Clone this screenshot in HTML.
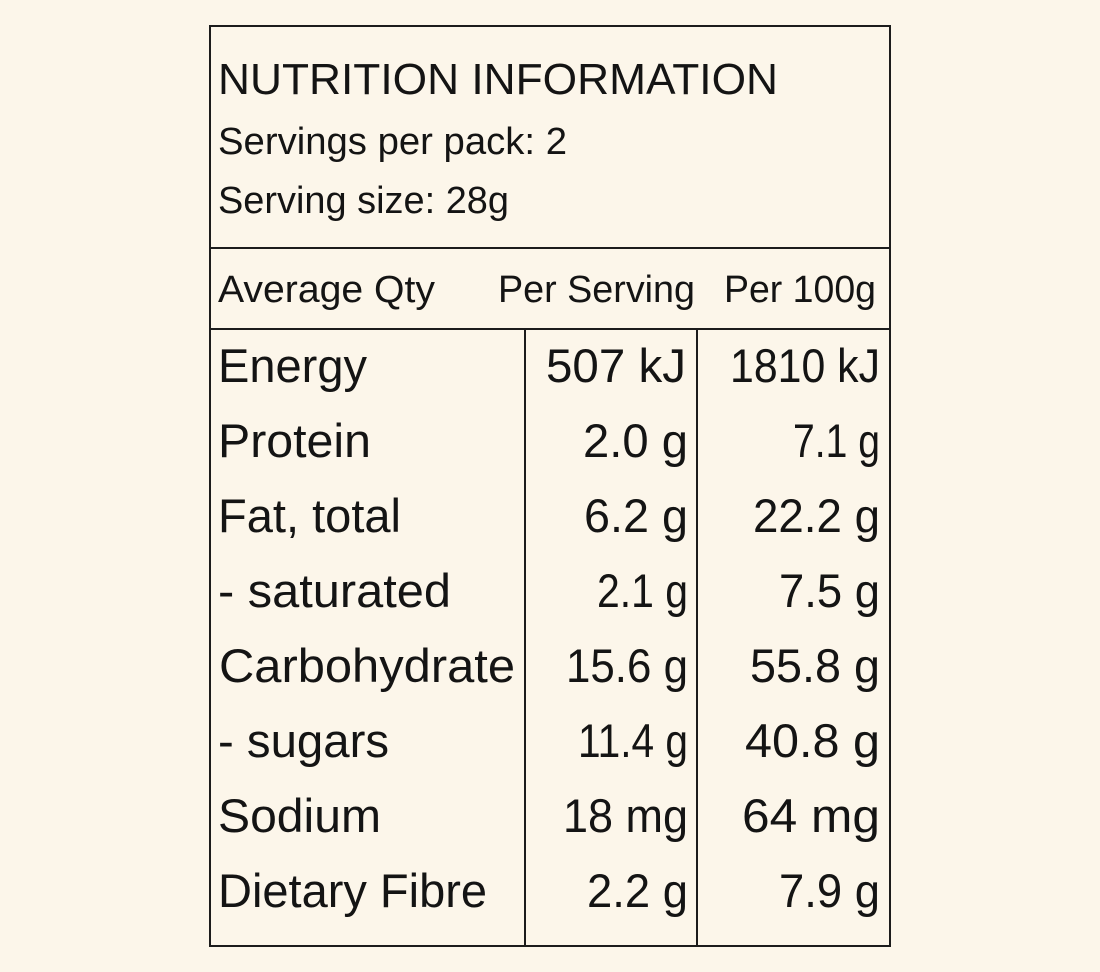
<!DOCTYPE html>
<html>
<head>
<meta charset="utf-8">
<style>
  html,body{margin:0;padding:0;background:#fcf6ea;}
  body{width:1100px;height:972px;overflow:hidden;}
  svg{display:block;}
  text{font-family:"Liberation Sans",Arial,sans-serif;fill:#141414;}
</style>
</head>
<body>
<svg width="1100" height="972" viewBox="0 0 1100 972" xmlns="http://www.w3.org/2000/svg">
  <rect x="0" y="0" width="1100" height="972" fill="#fcf6ea"/>
  <g stroke="#1c1c1c" stroke-width="2" fill="none">
    <rect x="210" y="26" width="680" height="920"/>
    <line x1="210" y1="248" x2="890" y2="248"/>
    <line x1="210" y1="329" x2="890" y2="329"/>
    <line x1="525" y1="329" x2="525" y2="946"/>
    <line x1="697" y1="329" x2="697" y2="946"/>
  </g>

  <text x="218" y="94" font-size="44" textLength="560" lengthAdjust="spacingAndGlyphs">NUTRITION INFORMATION</text>
  <text x="218" y="154" font-size="38" textLength="349" lengthAdjust="spacingAndGlyphs">Servings per pack: 2</text>
  <text x="218" y="213" font-size="38" textLength="291" lengthAdjust="spacingAndGlyphs">Serving size: 28g</text>

  <text x="218" y="302" font-size="38" textLength="217" lengthAdjust="spacingAndGlyphs">Average Qty</text>
  <text x="498" y="302" font-size="38" textLength="197" lengthAdjust="spacingAndGlyphs">Per Serving</text>
  <text x="724" y="302" font-size="38" textLength="152" lengthAdjust="spacingAndGlyphs">Per 100g</text>

  <g font-size="47">
    <text x="218" y="382" textLength="149" lengthAdjust="spacingAndGlyphs">Energy</text>
    <text x="218" y="457" textLength="153" lengthAdjust="spacingAndGlyphs">Protein</text>
    <text x="218" y="532" textLength="183" lengthAdjust="spacingAndGlyphs">Fat, total</text>
    <text x="218" y="607" textLength="233" lengthAdjust="spacingAndGlyphs">- saturated</text>
    <text x="219" y="682" textLength="296" lengthAdjust="spacingAndGlyphs">Carbohydrate</text>
    <text x="218" y="757" textLength="171" lengthAdjust="spacingAndGlyphs">- sugars</text>
    <text x="218" y="832" textLength="163" lengthAdjust="spacingAndGlyphs">Sodium</text>
    <text x="218" y="907" textLength="269" lengthAdjust="spacingAndGlyphs">Dietary Fibre</text>

    <text x="546" y="382" textLength="140" lengthAdjust="spacingAndGlyphs">507 kJ</text>
    <text x="583" y="457" textLength="105" lengthAdjust="spacingAndGlyphs">2.0 g</text>
    <text x="584" y="532" textLength="104" lengthAdjust="spacingAndGlyphs">6.2 g</text>
    <text x="597" y="607" textLength="91" lengthAdjust="spacingAndGlyphs">2.1 g</text>
    <text x="566" y="682" textLength="122" lengthAdjust="spacingAndGlyphs">15.6 g</text>
    <text x="578" y="757" textLength="110" lengthAdjust="spacingAndGlyphs">11.4 g</text>
    <text x="563" y="832" textLength="125" lengthAdjust="spacingAndGlyphs">18 mg</text>
    <text x="587" y="907" textLength="101" lengthAdjust="spacingAndGlyphs">2.2 g</text>

    <text x="730" y="382" textLength="150" lengthAdjust="spacingAndGlyphs">1810 kJ</text>
    <text x="793" y="457" textLength="87" lengthAdjust="spacingAndGlyphs">7.1 g</text>
    <text x="753" y="532" textLength="127" lengthAdjust="spacingAndGlyphs">22.2 g</text>
    <text x="779" y="607" textLength="101" lengthAdjust="spacingAndGlyphs">7.5 g</text>
    <text x="750" y="682" textLength="130" lengthAdjust="spacingAndGlyphs">55.8 g</text>
    <text x="745" y="757" textLength="135" lengthAdjust="spacingAndGlyphs">40.8 g</text>
    <text x="742" y="832" textLength="138" lengthAdjust="spacingAndGlyphs">64 mg</text>
    <text x="779" y="907" textLength="101" lengthAdjust="spacingAndGlyphs">7.9 g</text>
  </g>
</svg>
</body>
</html>
